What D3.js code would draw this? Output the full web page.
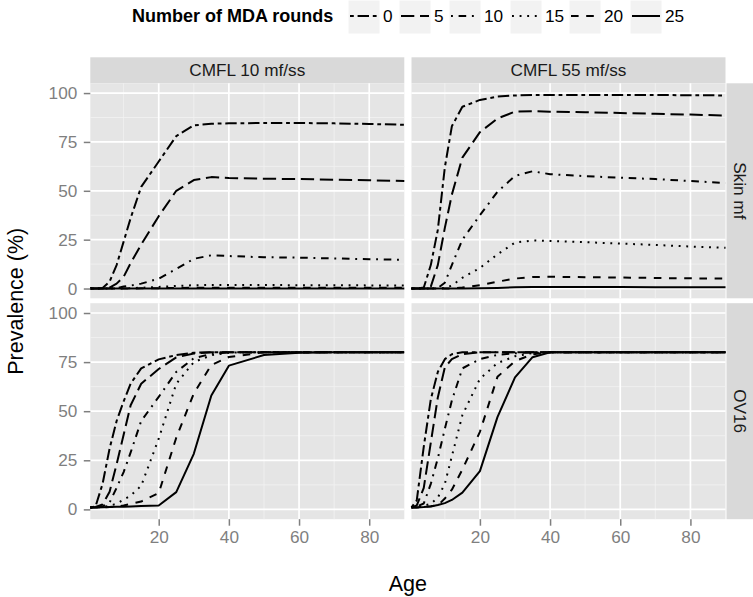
<!DOCTYPE html>
<html><head><meta charset="utf-8">
<script src="https://cdn.jsdelivr.net/npm/d3@7"></script>
<style>body{margin:0;background:#fff}svg{display:block}text{font-family:"Liberation Sans",Arial,sans-serif}</style>
</head><body><svg id="c" width="753" height="597"></svg>
<script>
// ---------- data ----------
const ages = [0.5, 2, 4, 6, 8, 10, 12, 15, 20, 25, 30, 35, 40, 50, 60, 70, 80, 90];
const rounds = [0, 5, 10, 15, 20, 25];
const roundLabels = ["0", "5", "10", "15", "20", "25"];
const cmflLabels = ["CMFL 10 mf/ss", "CMFL 55 mf/ss"];
const measureLabels = ["Skin mf", "OV16"];
const yTicks = [0, 25, 50, 75, 100];
const xTicks = [20, 40, 60, 80];

// Skin mf, CMFL 10 — one row per number of MDA rounds (0,5,10,15,20,25)
const skin10 = [
  [0, 0, 0.3, 3.5, 12, 24, 36, 52, 65, 78, 83.5, 84.3, 84.5, 84.7, 84.7, 84.5, 84.2, 83.8],
  [0, 0, 0, 0.5, 2.5, 6, 13, 22.5, 37, 50, 55.5, 57, 56.5, 56.2, 56, 55.7, 55.4, 55],
  [0, 0, 0, 0, 0.2, 1, 1.5, 2.5, 5, 10, 15.2, 17, 16.6, 16, 15.8, 15.4, 15, 14.7],
  [0, 0, 0, 0, 0, 0.1, 0.2, 0.4, 0.8, 1.3, 1.7, 1.8, 1.8, 1.8, 1.7, 1.7, 1.6, 1.6],
  [0, 0, 0, 0, 0, 0, 0, 0.1, 0.2, 0.3, 0.4, 0.4, 0.4, 0.4, 0.4, 0.4, 0.4, 0.4],
  [0, 0, 0, 0, 0, 0, 0, 0, 0, 0.05, 0.05, 0.05, 0.05, 0.05, 0.05, 0.05, 0.05, 0.05]
];
// Skin mf, CMFL 55
const skin55 = [
  [0, 0, 0.5, 12, 30, 62, 83, 93, 96.5, 98.2, 98.8, 99, 99, 99, 99, 99, 98.9, 98.8],
  [0, 0, 0, 1, 12, 31, 48, 67, 80, 87, 90.5, 90.7, 90.5, 90.2, 89.8, 89.4, 89, 88.5],
  [0, 0, 0, 0, 0.2, 3, 12, 25, 37.5, 49.5, 57.6, 60, 58.5, 57.5, 56.7, 56, 55, 54],
  [0, 0, 0, 0, 0, 0.3, 1.5, 5.5, 10.5, 17.5, 23.5, 24.6, 24.3, 23.7, 23, 22.3, 21.5, 20.8],
  [0, 0, 0, 0, 0, 0, 0.1, 0.5, 1.7, 3.5, 5.1, 5.9, 6, 5.8, 5.6, 5.4, 5.2, 5.1],
  [0, 0, 0, 0, 0, 0, 0, 0, 0.1, 0.3, 0.6, 0.8, 0.8, 0.8, 0.8, 0.7, 0.7, 0.7]
];
// OV16, CMFL 10
const ov10 = [
  [1, 1.5, 13, 31, 45, 55, 64, 71.8, 76.4, 78.6, 79.8, 80, 80, 80, 80, 80, 80, 80],
  [1, 1.2, 2.5, 9, 23, 38, 53, 64, 71.5, 77.4, 79.4, 80, 80, 80, 80, 80, 80, 80],
  [1, 1, 1.5, 3.5, 11, 19, 29, 45, 57.3, 70, 77, 79.2, 80, 80, 80, 80, 80, 80],
  [1, 1, 1.2, 1.8, 2.9, 5, 7, 12, 36, 64, 75, 78.5, 79.8, 80, 80, 80, 80, 80],
  [1, 1, 1, 1.2, 1.5, 2, 2.8, 4, 8.3, 36.5, 59, 73.5, 77.6, 80, 80, 80, 80, 80],
  [1, 1, 1.1, 1.2, 1.3, 1.4, 1.5, 1.7, 2, 8.8, 28.3, 58, 73.2, 78.6, 79.8, 80, 80, 80]
];
// OV16, CMFL 55
const ov55 = [
  [1, 4.6, 32, 56, 70, 76.5, 79, 80, 80, 80, 80, 80, 80, 80, 80, 80, 80, 80],
  [1, 2, 11, 34, 57, 72.3, 76.5, 79, 80, 80, 80, 80, 80, 80, 80, 80, 80, 80],
  [1, 1.5, 3, 13, 26, 41, 55.4, 71.8, 76.5, 78.7, 79.5, 80, 80, 80, 80, 80, 80, 80],
  [1, 1.2, 2, 2.8, 6, 13, 27, 48, 66.5, 74.5, 78, 79.6, 80, 80, 80, 80, 80, 80],
  [1, 1, 1.3, 1.6, 2, 5.5, 10, 20.3, 39.5, 67.5, 75.5, 79, 80, 80, 80, 80, 80, 80],
  [1, 1, 1.2, 1.5, 2.2, 3.2, 4.8, 8.5, 19.5, 47, 67.2, 77.5, 80, 80, 80, 80, 80, 80]
];
const panelData = [[skin10, skin55], [ov10, ov55]];

// ---------- styling ----------
const U = 1.9;
const dashes = [
  [2*U, 2*U, 6*U, 2*U].join(","),   // twodash
  [7*U, 3*U].join(","),             // longdash
  [1*U, 3*U, 4*U, 3*U].join(","),   // dotdash
  [1*U, 3*U].join(","),             // dotted
  [4*U, 4*U].join(","),             // dashed
  null                              // solid
];
const FS = 17.2;      // tick, strip and legend text
const FT = 21.5;      // axis titles

const svg = d3.select("#c");
const colX = [[90.3, 404.3], [411.5, 725.5]];
const rowY = [[83.3, 298.3], [303.2, 519.2]];
const stripTop = [57.3, 83.3];
const stripRight = [726.5, 753];

const x0 = d3.scaleLinear().domain([0.5, 90]);
const yDomain = [-5, 105];

// top strips
cmflLabels.forEach((lab, c) => {
  svg.append("rect").attr("x", colX[c][0]).attr("y", stripTop[0])
    .attr("width", colX[c][1] - colX[c][0]).attr("height", stripTop[1] - stripTop[0]).attr("fill", "#d9d9d9");
  svg.append("text").attr("x", (colX[c][0] + colX[c][1]) / 2).attr("y", (stripTop[0] + stripTop[1]) / 2)
    .attr("dy", "0.35em").attr("text-anchor", "middle").attr("font-size", FS).attr("fill", "#1a1a1a").text(lab);
});
// right strips
measureLabels.forEach((lab, r) => {
  svg.append("rect").attr("x", stripRight[0]).attr("y", rowY[r][0])
    .attr("width", stripRight[1] - stripRight[0]).attr("height", rowY[r][1] - rowY[r][0]).attr("fill", "#d9d9d9");
  const cx = (stripRight[0] + stripRight[1]) / 2, cy = (rowY[r][0] + rowY[r][1]) / 2;
  svg.append("text").attr("transform", `translate(${cx},${cy}) rotate(90)`)
    .attr("dy", "0.35em").attr("text-anchor", "middle").attr("font-size", FS).attr("fill", "#1a1a1a").text(lab);
});

const line = (xs, ys) => d3.line().x((d, i) => xs(ages[i])).y(d => ys(d));

for (let r = 0; r < 2; r++) {
  for (let c = 0; c < 2; c++) {
    const xs = x0.copy().range(colX[c]);
    const ys = d3.scaleLinear().domain(yDomain).range([rowY[r][1], rowY[r][0]]);
    const g = svg.append("g");
    g.append("rect").attr("x", colX[c][0]).attr("y", rowY[r][0])
      .attr("width", colX[c][1] - colX[c][0]).attr("height", rowY[r][1] - rowY[r][0]).attr("fill", "#e5e5e5");
    // minor grid
    [12.5, 37.5, 62.5, 87.5].forEach(v => g.append("line").attr("x1", colX[c][0]).attr("x2", colX[c][1])
      .attr("y1", ys(v)).attr("y2", ys(v)).attr("stroke", "#f2f2f2").attr("stroke-width", 0.8));
    [10, 30, 50, 70].forEach(v => g.append("line").attr("y1", rowY[r][0]).attr("y2", rowY[r][1])
      .attr("x1", xs(v)).attr("x2", xs(v)).attr("stroke", "#f2f2f2").attr("stroke-width", 0.8));
    // major grid
    yTicks.forEach(v => g.append("line").attr("x1", colX[c][0]).attr("x2", colX[c][1])
      .attr("y1", ys(v)).attr("y2", ys(v)).attr("stroke", "#fff").attr("stroke-width", 1.7));
    xTicks.forEach(v => g.append("line").attr("y1", rowY[r][0]).attr("y2", rowY[r][1])
      .attr("x1", xs(v)).attr("x2", xs(v)).attr("stroke", "#fff").attr("stroke-width", 1.7));
    // lines
    const data = panelData[r][c];
    data.forEach((ser, k) => {
      g.append("path").attr("d", line(xs, ys)(ser)).attr("fill", "none").attr("stroke", "#000")
        .attr("stroke-width", 2).attr("stroke-linecap", "butt").attr("stroke-linejoin", "round")
        .attr("stroke-dasharray", dashes[k]);
    });
    // y axis on left column
    if (c === 0) {
      const ax = svg.append("g").attr("transform", `translate(${colX[0][0]},0)`)
        .call(d3.axisLeft(ys).tickValues(yTicks).tickSize(6.5).tickPadding(6.5));
      ax.select(".domain").remove();
      ax.selectAll("line").attr("stroke", "#7f7f7f").attr("stroke-width", 1.5);
      ax.selectAll("text").attr("fill", "#7f7f7f").attr("font-size", FS).style("font-family", "Liberation Sans, Arial, sans-serif");
    }
    if (r === 1) {
      const ax = svg.append("g").attr("transform", `translate(0,${rowY[1][1]})`)
        .call(d3.axisBottom(xs).tickValues(xTicks).tickSize(6.5).tickPadding(5));
      ax.select(".domain").remove();
      ax.selectAll("line").attr("stroke", "#7f7f7f").attr("stroke-width", 1.5);
      ax.selectAll("text").attr("fill", "#7f7f7f").attr("font-size", FS).style("font-family", "Liberation Sans, Arial, sans-serif");
    }
  }
}

// axis titles
svg.append("text").attr("x", (colX[0][0] + colX[1][1]) / 2).attr("y", 583).attr("dy", "0.35em")
  .attr("text-anchor", "middle").attr("font-size", FT).attr("fill", "#000").text("Age");
svg.append("text").attr("transform", `translate(15,${(rowY[0][0] + rowY[1][1]) / 2}) rotate(-90)`).attr("dy", "0.35em")
  .attr("text-anchor", "middle").attr("font-size", FT).attr("fill", "#000").text("Prevalence (%)");

// legend
const lg = svg.append("g");
lg.append("text").attr("x", 132).attr("y", 16).attr("dy", "0.35em").attr("font-size", 18)
  .attr("font-weight", "bold").attr("fill", "#000").text("Number of MDA rounds");
const keyX = [348, 399, 449, 510, 569, 630];
const keyW = 32, keyH = 34;
rounds.forEach((rd, k) => {
  const kx = keyX[k];
  lg.append("rect").attr("x", kx).attr("y", 0).attr("width", keyW).attr("height", keyH)
    .attr("fill", "#f2f2f2").attr("stroke", "#fff").attr("stroke-width", 1);
  lg.append("line").attr("x1", kx + 2).attr("x2", kx + keyW - 2).attr("y1", 16).attr("y2", 16)
    .attr("stroke", "#000").attr("stroke-width", 2).attr("stroke-dasharray", dashes[k]);
  lg.append("text").attr("x", kx + keyW + 3).attr("y", 16).attr("dy", "0.35em").attr("font-size", FS)
    .attr("fill", "#000").text(roundLabels[k]);
});
</script></body></html>
